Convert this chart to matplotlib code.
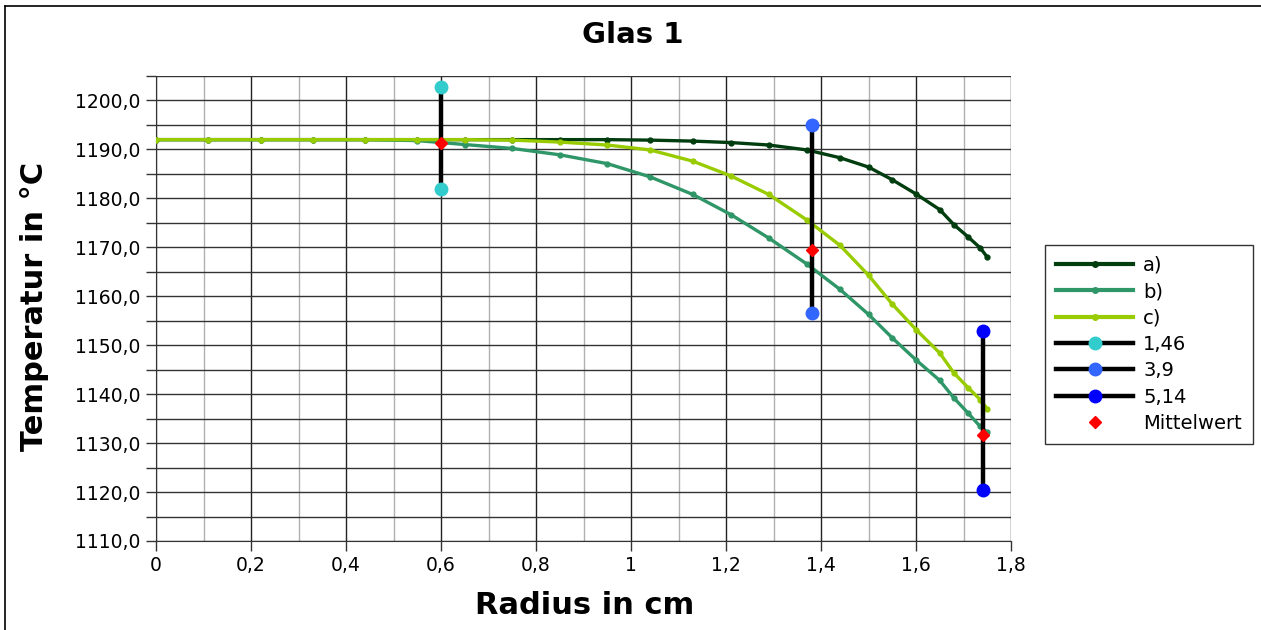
import matplotlib
matplotlib.use('Agg')
import matplotlib.pyplot as plt
from matplotlib.lines import Line2D
from matplotlib.ticker import MultipleLocator, FuncFormatter

# Messpunkte (Radius in cm)
radius = [0, 0.11, 0.22, 0.33, 0.44, 0.55, 0.65, 0.75, 0.85,
          0.95, 1.04, 1.13, 1.21, 1.29, 1.37, 1.44, 1.50, 1.55,
          1.60, 1.65, 1.68, 1.71, 1.735, 1.75]

temp_a = [1192.0, 1192.0, 1192.0, 1192.0, 1192.0, 1192.0, 1192.0, 1192.0, 1192.0,
          1192.0, 1191.9, 1191.7, 1191.4, 1190.9, 1189.9, 1188.3, 1186.4, 1183.8,
          1180.9, 1177.7, 1174.6, 1172.1, 1169.9, 1168.0]
temp_b = [1192.0, 1192.0, 1192.0, 1192.0, 1192.0, 1191.8, 1191.0, 1190.2, 1188.9,
          1187.1, 1184.4, 1180.8, 1176.7, 1171.9, 1166.6, 1161.4, 1156.3, 1151.5,
          1147.0, 1142.8, 1139.2, 1136.1, 1133.4, 1132.2]
temp_c = [1192.0, 1192.0, 1192.0, 1192.0, 1192.0, 1192.0, 1192.0, 1191.9, 1191.5,
          1190.9, 1189.9, 1187.6, 1184.6, 1180.8, 1175.6, 1170.4, 1164.3, 1158.4,
          1153.2, 1148.4, 1144.3, 1141.3, 1138.9, 1137.0]

serien_namen = ['a)', 'b)', 'c)']
serien_farben = ['#003d0f', '#2f9668', '#99cc00']

# Messungen mit Streubereich
mess_namen = ['1,46', '3,9', '5,14']
mess_x = [0.60, 1.38, 1.74]
mess_min = [1181.9, 1156.6, 1120.4]
mess_max = [1202.7, 1194.9, 1153.0]
mess_mittel = [1191.3, 1169.5, 1131.6]
mess_farben = ['#33cccc', '#3366ff', '#0000ff']

fig = plt.figure(figsize=(12.61, 6.30), dpi=100)
ax = fig.add_axes([156 / 1261, 1 - 541 / 630, (1011 - 156) / 1261, (541 - 76) / 630])

# Rahmen links und oben
fig.add_artist(Line2D([5 / 1261, 5 / 1261], [0, 1 - 6 / 630], color='black', lw=1.2))
fig.add_artist(Line2D([5 / 1261, 1], [1 - 6 / 630, 1 - 6 / 630], color='black', lw=1.2))

for werte, farbe in zip([temp_a, temp_b, temp_c], serien_farben):
    ax.plot(radius, werte, color=farbe, lw=2.4, marker='o', ms=3.5, zorder=3)

for x, lo, hi, mw, farbe in zip(mess_x, mess_min, mess_max, mess_mittel, mess_farben):
    ax.plot([x, x], [lo, hi], color='black', lw=3.2, zorder=4)
    ax.plot([x, x], [lo, hi], ls='none', marker='o', ms=9, color=farbe, zorder=5)
    ax.plot([x], [mw], ls='none', marker='D', ms=6, color='red', zorder=6)

ax.set_xlim(0, 1.8)
ax.set_ylim(1110, 1205)
ax.xaxis.set_major_locator(MultipleLocator(0.2))
ax.xaxis.set_minor_locator(MultipleLocator(0.1))
ax.yaxis.set_major_locator(MultipleLocator(10))
ax.yaxis.set_minor_locator(MultipleLocator(5))


def x_fmt(v, pos):
    s = ('%.1f' % v).rstrip('0').rstrip('.')
    return s.replace('.', ',')


ax.xaxis.set_major_formatter(FuncFormatter(x_fmt))
ax.yaxis.set_major_formatter(FuncFormatter(lambda v, p: ('%.1f' % v).replace('.', ',')))

ax.grid(which='major', axis='x', color='#222222', lw=1.0)
ax.grid(which='minor', axis='x', color='#b0b0b0', lw=1.0)
ax.grid(which='both', axis='y', color='#333333', lw=1.0)
ax.set_axisbelow(True)

ax.tick_params(axis='both', which='major', direction='out', length=7, width=1,
               labelsize=13.5, color='#333333', pad=4)
ax.tick_params(axis='y', which='minor', direction='out', length=7, width=1, color='#333333')
ax.tick_params(axis='x', which='minor', length=0)

for s in ['top', 'right']:
    ax.spines[s].set_visible(False)
ax.spines['left'].set_color('#333333')
ax.spines['bottom'].set_color('#333333')

fig.text(585 / 1261, 1 - 605 / 630, 'Radius in cm', ha='center', va='center',
         fontsize=22, fontweight='bold')
fig.text(35 / 1261, 1 - 306 / 630, 'Temperatur in °C', ha='center', va='center',
         rotation=90, fontsize=22, fontweight='bold')
fig.text(633 / 1261, 1 - 35 / 630, 'Glas 1', ha='center', va='center',
         fontsize=21, fontweight='bold')

handles = []
for name, farbe in zip(serien_namen, serien_farben):
    handles.append(Line2D([], [], color=farbe, lw=3, marker='o', ms=4))
for farbe in mess_farben:
    handles.append(Line2D([], [], color='black', lw=3.2, marker='o', ms=9,
                          markerfacecolor=farbe, markeredgecolor=farbe))
handles.append(Line2D([], [], ls='none', marker='D', ms=6, color='red'))
labels = serien_namen + mess_namen + ['Mittelwert']

leg = fig.legend(handles, labels, loc='upper left',
                 bbox_to_anchor=(1045 / 1261, 1 - 245 / 630),
                 fontsize=14, frameon=True, fancybox=False, edgecolor='black',
                 handlelength=4.0, handletextpad=0.5, labelspacing=0.38,
                 borderpad=0.55, borderaxespad=0)
leg.get_frame().set_linewidth(1.0)

fig.savefig('out.png', dpi=100)
